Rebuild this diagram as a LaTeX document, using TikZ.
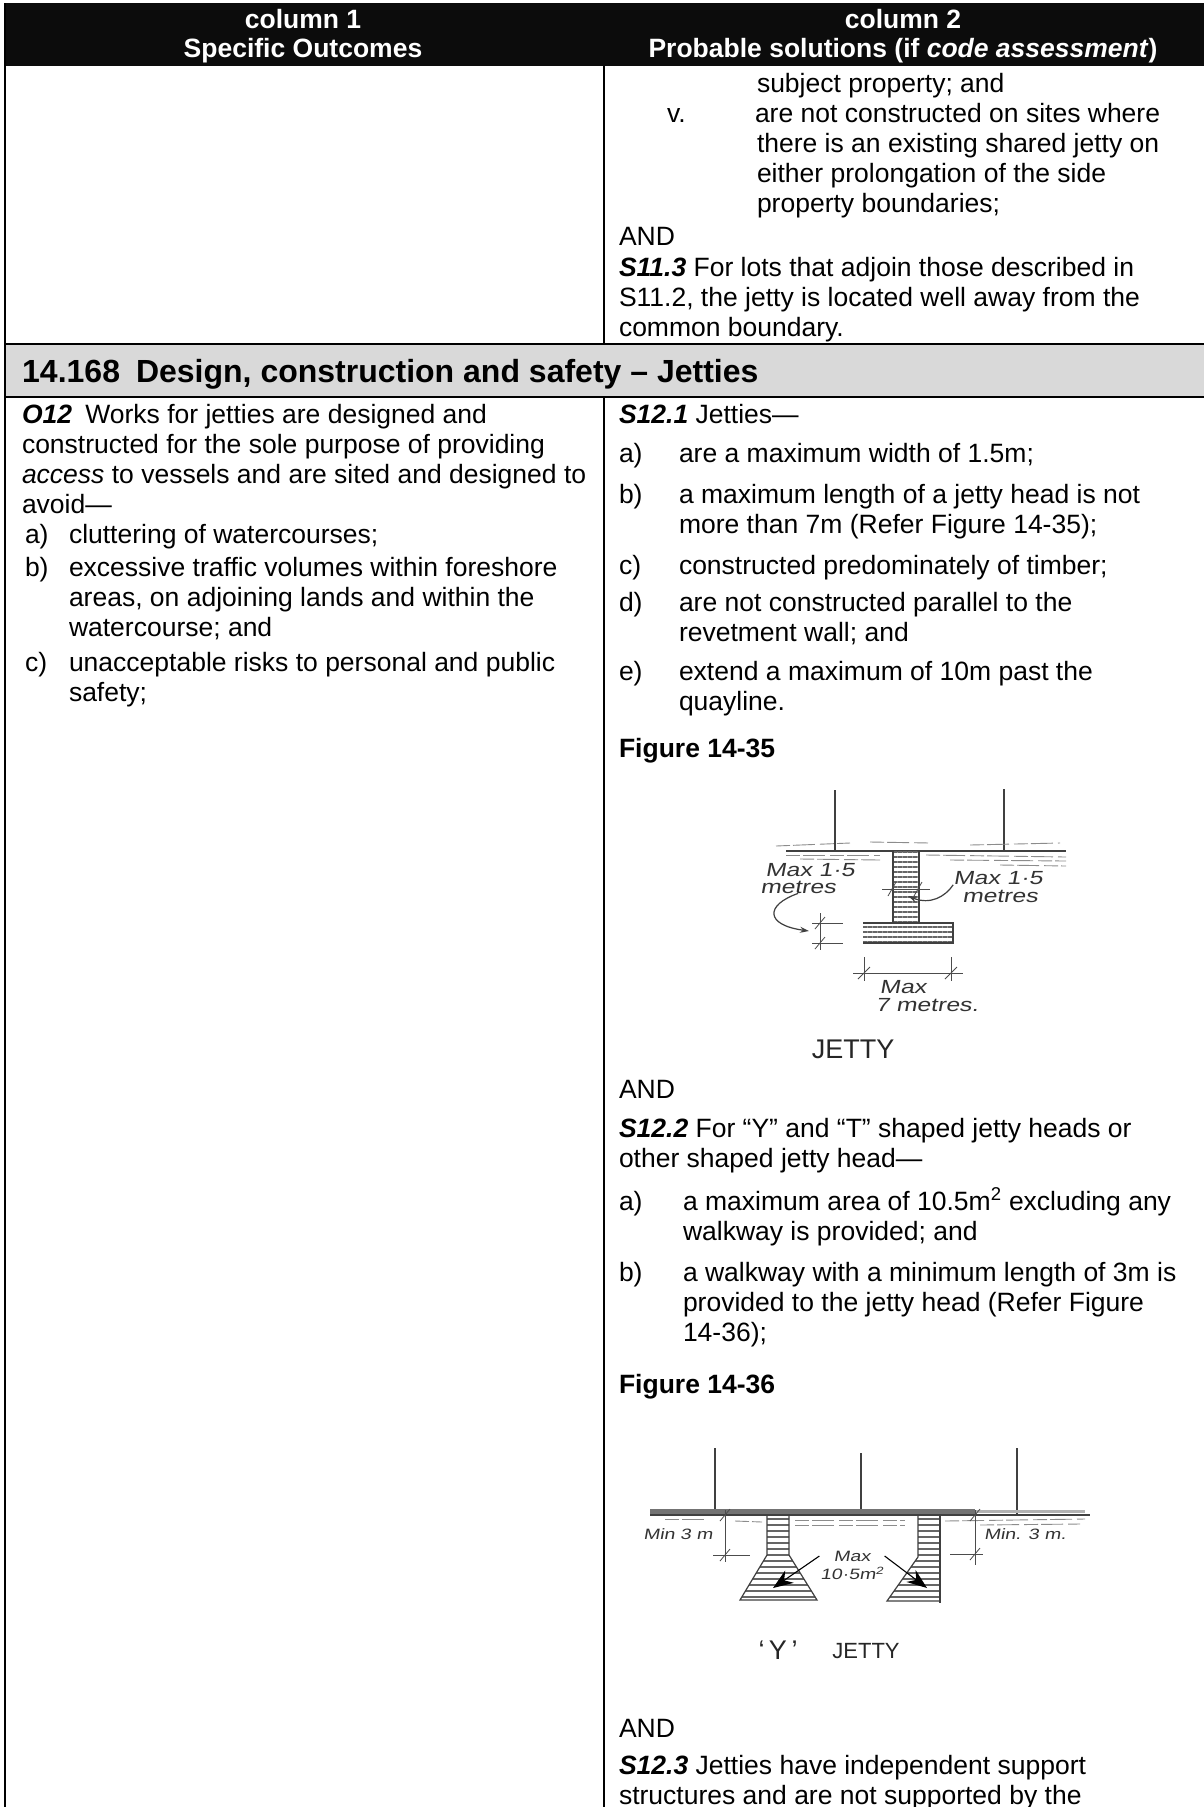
\documentclass[tikz,border=0pt]{standalone}
\usepackage{fontspec}
\setmainfont{Liberation Sans}
\newfontface\sketchfont[FakeStretch=1.3,FakeSlant=.18]{Liberation Sans}
\usetikzlibrary{arrows.meta,patterns.meta}
\definecolor{bandgrey}{HTML}{D9D9D9}
\definecolor{headblack}{HTML}{0C0C0C}
\tikzset{
  para/.style={anchor=base west,align=left,inner sep=0pt,outer sep=0pt,text=black,font=\fontsize{26.5}{30}\selectfont},
  head/.style={anchor=base,align=center,inner sep=0pt,text=white,font=\fontsize{26.5}{29}\selectfont\bfseries},
  hand/.style={inner sep=0pt,text=black!80,font=\fontsize{19}{19}\selectfont\sketchfont},
  handsmall/.style={inner sep=0pt,text=black!80,font=\fontsize{15}{15}\selectfont\sketchfont},
  caps/.style={inner sep=0pt,text=black!85,font=\fontsize{27}{27}\selectfont},
  rule/.style={line width=2.5pt,black},
  sketch/.style={line width=1.2pt,black!75},
  dim/.style={line width=.8pt,black!70},
  water/.style={line width=.9pt,black!45,dash pattern=on 14pt off 3pt on 22pt off 5pt},
  hatch/.style={pattern={Lines[angle=0,distance=#1,line width=1.5pt]},pattern color=black!60},
  hatch/.default=6pt
}
\begin{document}
\begin{tikzpicture}[x=1pt,y=-1pt]
\useasboundingbox (0,0) rectangle (1204,1807);
% table
\fill[white] (0,0) rectangle (1204,1807);
\fill[headblack] (5,3) rectangle (1204,66);
\fill[bandgrey] (5,344) rectangle (1204,397);
\draw[rule] (5,3) -- (5,1807);
\draw[rule] (604,66) -- (604,344);
\draw[rule] (604,397) -- (604,1807);
\draw[rule] (5,344) -- (1204,344);
\draw[rule] (5,397) -- (1204,397);
% header
\node[head] (col1) at (303,57) {column 1\\Specific Outcomes};
\node[head] (col2) at (903,57) {column 2\\Probable solutions (if \textit{code assessment})};
\node[para] (subj) at (757,92) {subject property; and};
\node[para] (v) at (667,122) {v.};
\node[para] (sites) at (755,122) {are not constructed on sites where};
\node[para] (shared) at (757,212) {there is an existing shared jetty on\\either prolongation of the side\\property boundaries;};
\node[para] (and1) at (619,245) {AND};
\node[para] (s113) at (619,336) {\textbf{\textit{S11.3}} For lots that adjoin those described in\\S11.2, the jetty is located well away from the\\common boundary.};
\node[anchor=base west,inner sep=0pt,font=\fontsize{32}{32}\selectfont\bfseries] (band) at (22,382) {14.168\hspace{.5em}Design, construction and safety -- Jetties};
% column 1
\node[para] (o12) at (22,513) {\textbf{\textit{O12}}\hspace{.5em}Works for jetties are designed and\\constructed for the sole purpose of providing\\\textit{access} to vessels and are sited and designed to\\avoid---};
\node[para] (o12a) at (25,543) {a)};
\node[para] (o12at) at (69,543) {cluttering of watercourses;};
\node[para] (o12b) at (25,576) {b)};
\node[para] (o12bt) at (69,636) {excessive traffic volumes within foreshore\\areas, on adjoining lands and within the\\watercourse; and};
\node[para] (o12c) at (25,671) {c)};
\node[para] (o12ct) at (69,701) {unacceptable risks to personal and public\\safety;};
% column 2
\node[para] (s121) at (619,423) {\textbf{\textit{S12.1}} Jetties---};
\node[para] (s121a) at (619,462) {a)};
\node[para] (s121at) at (679,462) {are a maximum width of 1.5m;};
\node[para] (s121b) at (619,503) {b)};
\node[para] (s121bt) at (679,533) {a maximum length of a jetty head is not\\more than 7m (Refer Figure 14-35);};
\node[para] (s121c) at (619,574) {c)};
\node[para] (s121ct) at (679,574) {constructed predominately of timber;};
\node[para] (s121d) at (619,611) {d)};
\node[para] (s121dt) at (679,641) {are not constructed parallel to the\\revetment wall; and};
\node[para] (s121e) at (619,680) {e)};
\node[para] (s121et) at (679,710) {extend a maximum of 10m past the\\quayline.};
\node[para] (fig35) at (619,757) {\textbf{Figure 14-35}};
\node[para] (and2) at (619,1098) {AND};
\node[para] (s122) at (619,1167) {\textbf{\textit{S12.2}} For ``Y'' and ``T'' shaped jetty heads or\\other shaped jetty head---};
\node[para] (s122a) at (619,1210) {a)};
\node[para] (s122at) at (683,1240) {a maximum area of 10.5m\textsuperscript{2} excluding any\\walkway is provided; and};
\node[para] (s122b) at (619,1281) {b)};
\node[para] (s122bt) at (683,1341) {a walkway with a minimum length of 3m is\\provided to the jetty head (Refer Figure\\14-36);};
\node[para] (fig36) at (619,1393) {\textbf{Figure 14-36}};
\node[para] (and3) at (619,1737) {AND};
\node[para] (s123) at (619,1804) {\textbf{\textit{S12.3}} Jetties have independent support\\structures and are not supported by the};
% figure 14-35
\draw[sketch] (835,790) -- (835,851);
\draw[sketch] (1004,789) -- (1004,851);
\draw[sketch] (786,851) -- (1066,851);
\draw[water] (776,846) -- (850,843);
\draw[water] (870,842) -- (930,843);
\draw[water] (970,845) -- (1060,843);
\draw[water] (786,855) -- (880,855);
\draw[water] (800,859) -- (880,860);
\draw[water] (926,855) -- (1066,857);
\draw[water] (950,860) -- (1066,861);
\draw[water] (1000,865) -- (1066,866);
\fill[hatch=5pt] (893,851) rectangle (919,923);
\fill[hatch=5pt] (863,923) rectangle (953,943);
\draw[sketch] (893,851) -- (893,923);
\draw[sketch] (919,851) -- (919,923);
\draw[sketch] (863,923) -- (953,923) -- (953,943) -- (863,943);
\draw[dim] (882,889) -- (930,889);
\draw[dim] (888,896) -- (896,882);
\draw[dim] (914,896) -- (922,882);
\draw[dim] (812,923) -- (843,923);
\draw[dim] (812,943) -- (843,943);
\draw[dim] (820,913) -- (820,950);
\draw[dim] (815,929) -- (825,917);
\draw[dim] (815,949) -- (825,937);
\draw[dim] (853,973) -- (963,973);
\draw[dim] (864,957) -- (864,981);
\draw[dim] (951,957) -- (951,981);
\draw[dim] (858,979) -- (870,967);
\draw[dim] (945,979) -- (957,967);
\node[hand] (max15a) at (810,870) {Max 1·5};
\node[hand] (metresa) at (798,887) {metres};
\node[hand] (max15b) at (998,878) {Max 1·5};
\node[hand] (metresb) at (1000,896) {metres};
\node[hand] (max7) at (903,987) {Max};
\node[hand] (metres7) at (927,1005) {7 metres.};
\node[caps] (jetty1) at (853,1049) {JETTY};
\coordinate (heada) at (809,931);
\coordinate (stema) at (908,896);
\draw[sketch,-{Stealth[length=9pt,width=6pt]}] (metresa.south) .. controls (765,905) and (765,925) .. (heada);
\draw[sketch,-{Stealth[length=9pt,width=6pt]}] (max15b.south west) .. controls (945,897) and (930,905) .. (stema);
% figure 14-36
\draw[sketch] (715,1448) -- (715,1515);
\draw[sketch] (861,1453) -- (861,1515);
\draw[sketch] (1017,1448) -- (1017,1515);
\draw[line width=5pt,black!55] (650,1511) -- (975,1511);
\draw[line width=3pt,black!30] (975,1511) -- (1085,1511);
\draw[sketch] (650,1515) -- (1090,1515);
\draw[water] (665,1519) -- (705,1519);
\draw[water] (735,1521) -- (762,1522);
\draw[water] (795,1520) -- (905,1520);
\draw[water] (795,1525) -- (905,1525);
\draw[water] (945,1521) -- (1085,1519);
\draw[water] (980,1525) -- (1080,1524);
\fill[hatch] (767,1515) -- (767,1555) -- (740,1600) -- (817,1600) -- (789,1555) -- (789,1515) -- cycle;
\fill[hatch] (918,1515) -- (918,1557) -- (887,1601) -- (940,1601) -- (940,1515) -- cycle;
\draw[sketch] (767,1515) -- (767,1555) -- (740,1600) -- (817,1600) -- (789,1555) -- (789,1515);
\draw[sketch] (918,1515) -- (918,1557) -- (887,1601) -- (940,1601);
\draw[sketch] (940,1515) -- (940,1603);
\draw[dim] (725,1510) -- (725,1562);
\draw[dim] (713,1555) -- (750,1555);
\draw[dim] (720,1521) -- (730,1509);
\draw[dim] (720,1561) -- (730,1549);
\draw[dim] (975,1510) -- (975,1565);
\draw[dim] (950,1554) -- (983,1554);
\draw[dim] (970,1521) -- (980,1509);
\draw[dim] (970,1560) -- (980,1548);
\node[handsmall] (min3a) at (678,1534) {Min 3 m};
\node[handsmall] (min3b) at (1025,1534) {Min. 3 m.};
\node[handsmall] (max105) at (852,1556) {Max};
\node[handsmall] (area) at (852,1573) {10·5m\textsuperscript{2}};
\node[caps,font=\fontsize{27}{27}\selectfont] (ytext) at (778,1650) {‘\,Y\,’};
\node[caps,font=\fontsize{22}{22}\selectfont] (jetty2) at (866,1651) {JETTY};
\coordinate (yhead) at (773,1588);
\coordinate (thead) at (927,1588);
\draw[line width=1.1pt,black,-{Stealth[length=20pt,width=15pt]}] (max105.west) ++(-14,0) -- (yhead);
\draw[line width=1.1pt,black,-{Stealth[length=20pt,width=15pt]}] (max105.east) ++(14,0) -- (thead);
\end{tikzpicture}
\end{document}
